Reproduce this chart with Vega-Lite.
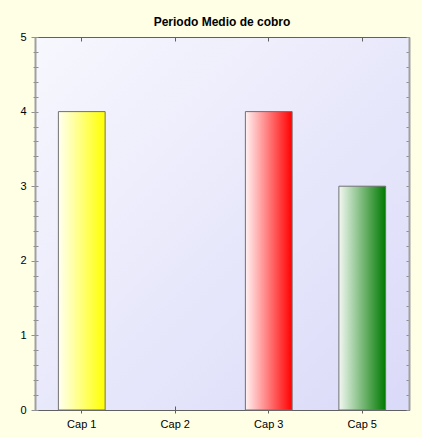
{
  "$schema": "https://vega.github.io/schema/vega-lite/v6.json",
  "autosize": "none",
  "width": 374,
  "height": 373,
  "padding": {"left": 35, "top": 37, "right": 13, "bottom": 27},
  "background": "#FFFFE6",
  "title": {"text": "Periodo Medio de cobro", "font": "Liberation Sans", "fontSize": 12, "fontWeight": "bold", "color": "#000000", "anchor": "middle", "offset": 2},
  "config": {
    "view": {
      "fill": {"gradient": "linear", "x1": 0, "y1": 0, "x2": 1, "y2": 1, "stops": [{"offset": 0, "color": "#F7F7FE"}, {"offset": 1, "color": "#DADAF9"}]},
      "stroke": "#606060",
      "strokeWidth": 1
    },
    "axis": {"labelFont": "Liberation Sans", "labelFontSize": 11, "labelColor": "#000000", "tickColor": "#606060", "domainColor": "#808080", "grid": false, "title": null}
  },
  "data": {"values": [
    {"cap": "Cap 1", "value": 4},
    {"cap": "Cap 2", "value": 0},
    {"cap": "Cap 3", "value": 4},
    {"cap": "Cap 5", "value": 3}
  ]},
  "encoding": {
    "x": {"field": "cap", "type": "nominal", "sort": null, "scale": {"domain": ["Cap 1", "Cap 2", "Cap 3", "Cap 5"], "paddingInner": 0.5, "paddingOuter": 0.25}},
    "y": {"field": "value", "type": "quantitative", "scale": {"domain": [0, 5], "nice": false}}
  },
  "layer": [
    {
      "mark": {"type": "bar", "strokeWidth": 1},
      "encoding": {
        "x": {"field": "cap", "type": "nominal", "sort": null, "axis": {"orient": "bottom", "labelAngle": 0, "tickSize": 3, "labelPadding": 5, "domainColor": "#606060", "tickColor": "#606060"}},
        "y": {"field": "value", "type": "quantitative", "axis": {"orient": "left", "values": [0, 1, 2, 3, 4, 5], "tickSize": 4, "labelPadding": 5, "domainWidth": 2, "domainColor": "#A0A0A0", "tickColor": "#909090"}},
        "fill": {
          "condition": [
            {"test": "datum.cap === 'Cap 1'", "value": {"gradient": "linear", "x1": 0, "y1": 0, "x2": 1, "y2": 0, "stops": [{"offset": 0, "color": "#FFFFF2"}, {"offset": 1, "color": "#FFFF00"}]}},
            {"test": "datum.cap === 'Cap 3'", "value": {"gradient": "linear", "x1": 0, "y1": 0, "x2": 1, "y2": 0, "stops": [{"offset": 0, "color": "#FFF2F2"}, {"offset": 1, "color": "#FF0000"}]}}
          ],
          "value": {"gradient": "linear", "x1": 0, "y1": 0, "x2": 1, "y2": 0, "stops": [{"offset": 0, "color": "#F2F8F2"}, {"offset": 1, "color": "#007A00"}]}
        },
        "stroke": {"condition": {"test": "datum.value > 0", "value": "#707070"}, "value": null}
      }
    },
    {
      "mark": {"type": "bar", "opacity": 0},
      "encoding": {
        "x": {"field": "cap", "type": "nominal", "sort": null, "axis": {"orient": "bottom", "labels": false, "domain": false, "tickSize": -4, "tickColor": "#606060"}},
        "y": {"field": "value", "type": "quantitative", "axis": {"orient": "left", "labels": false, "domain": false, "values": [0, 0.2, 0.4, 0.6, 0.8, 1, 1.2, 1.4, 1.6, 1.8, 2, 2.2, 2.4, 2.6, 2.8, 3, 3.2, 3.4, 3.6, 3.8, 4, 4.2, 4.4, 4.6, 4.8, 5], "tickSize": -3, "tickColor": "#909090"}}
      }
    },
    {
      "mark": {"type": "bar", "opacity": 0},
      "encoding": {
        "x": {"field": "cap", "type": "nominal", "sort": null, "axis": null},
        "y": {"field": "value", "type": "quantitative", "axis": {"orient": "left", "labels": false, "domain": false, "values": [0.2, 0.4, 0.6, 0.8, 1.2, 1.4, 1.6, 1.8, 2.2, 2.4, 2.6, 2.8, 3.2, 3.4, 3.6, 3.8, 4.2, 4.4, 4.6, 4.8], "tickSize": 2, "tickColor": "#909090"}}
      }
    },
    {
      "mark": {"type": "bar", "opacity": 0},
      "encoding": {
        "x": {"field": "cap", "type": "nominal", "sort": null, "axis": {"orient": "top", "labels": false, "domain": false, "tickSize": -4, "tickColor": "#606060"}},
        "y": {"field": "value", "type": "quantitative", "axis": {"orient": "right", "labels": false, "domainWidth": 2, "domainColor": "#A0A0A0", "values": [0, 0.2, 0.4, 0.6, 0.8, 1, 1.2, 1.4, 1.6, 1.8, 2, 2.2, 2.4, 2.6, 2.8, 3, 3.2, 3.4, 3.6, 3.8, 4, 4.2, 4.4, 4.6, 4.8, 5], "tickSize": -3, "tickColor": "#909090"}}
      }
    }
  ],
  "resolve": {"axis": {"x": "independent", "y": "independent"}}
}
